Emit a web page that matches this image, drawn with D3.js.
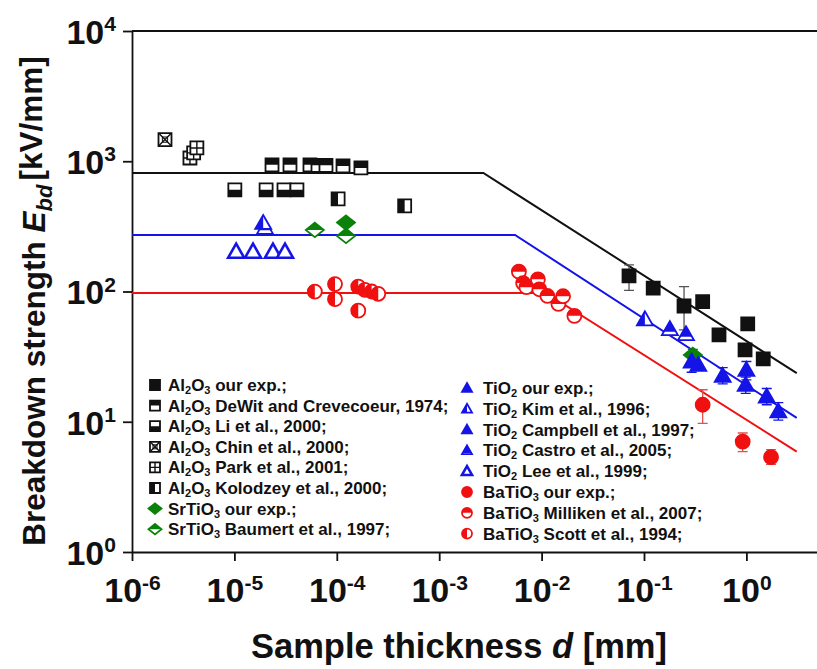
<!DOCTYPE html>
<html>
<head>
<meta charset="utf-8">
<script src="https://cdn.jsdelivr.net/npm/d3@7"></script>
<style>
  body { margin: 0; background: #fff; }
  text { font-family: "Liberation Sans", Arial, sans-serif; font-weight: bold; fill: #111; }
</style>
</head>
<body>
<svg id="chart" width="817" height="669"></svg>
<script>
// ---- data: thickness d [mm], breakdown strength E [kV/mm] ----
var al2o3Ours     = [[0.0714, 132], [0.123, 106], [0.246, 77.4], [0.374, 83.5], [0.54, 46.5], [1.03, 56.4], [0.97, 35.6], [1.46, 30.4]];
var al2o3OursErr  = [[0.0714, 102, 160], [0.246, 50.7, 109]];
var al2o3DeWit    = [[2.33e-5, 938], [3.49e-5, 938], [5.47e-5, 938], [6.55e-5, 930], [7.84e-5, 930], [1.15e-4, 920], [1.72e-4, 889]];
var al2o3Li       = [[1.01e-5, 603], [2.04e-5, 603], [3.05e-5, 603], [4.08e-5, 603]];
var al2o3Chin     = [[2.1e-6, 1466]];
var al2o3Park     = [[3.68e-6, 1059], [4.0e-6, 1160], [4.3e-6, 1265]];
var al2o3Kolodzey = [[1.03e-4, 514], [4.6e-4, 454]];
var srtio3Ours    = [[1.23e-4, 338], [0.30, 32.6]];
var srtio3OursErr = [[0.30, 28, 36]];
var srtio3Baumert = [[6.1e-5, 297], [1.23e-4, 267]];
var tio2Ours      = [[0.292, 29.0], [0.587, 22.5], [1.0, 25.0], [0.985, 19.2], [1.58, 15.6], [2.05, 12.0]];
var tio2OursErr   = [[0.292, 24, 34], [0.587, 19.5, 26], [1.0, 21, 29], [0.985, 16.5, 22], [1.58, 13.5, 18], [2.05, 10.3, 14]];
var tio2Kim       = [[1.91e-5, 336], [0.102, 61.2]];
var tio2Campbell  = [[0.339, 27.3]];
var tio2Castro    = [[1.99e-5, 308], [0.179, 51.4], [0.257, 47]];
var tio2Lee       = [[1.04e-5, 202], [1.52e-5, 202], [2.38e-5, 202], [3.12e-5, 202]];
var batio3Ours    = [[0.374, 13.5], [0.92, 7.04], [1.74, 5.35]];
var batio3OursErr = [[0.374, 9.7, 17.6], [0.92, 5.9, 8.2], [1.74, 4.7, 6.1]];
var batio3Milliken = [[6.0e-3, 142], [6.6e-3, 116], [7.1e-3, 108], [9.2e-3, 124], [9.5e-3, 104], [1.14e-2, 92.4], [1.46e-2, 80.3], [1.62e-2, 92], [2.09e-2, 65]];
var batio3Scott   = [[6.1e-5, 99.8], [9.6e-5, 114], [9.6e-5, 87.3], [1.62e-4, 71.3], [1.62e-4, 109], [1.88e-4, 103], [2.19e-4, 100], [2.54e-4, 96]];

// model lines (plateau then d^-1/2)
var fitAl2o3  = [[1e-6, 813], [2.7e-3, 813], [3.1, 23.6]];
var fitTio2   = [[1e-6, 272], [5.5e-3, 272], [3.1, 10.7]];
var fitBatio3 = [[1e-6, 97.5], [1.1e-2, 97.5], [3.1, 5.9]];

var xMajor = [1e-6, 1e-5, 1e-4, 1e-3, 1e-2, 1e-1, 1];
var yMajor = [1, 10, 100, 1000, 10000];

var legendLeft = ["Al2O3 our exp.;", "Al2O3 DeWit and Crevecoeur, 1974;", "Al2O3 Li et al., 2000;", "Al2O3 Chin et al., 2000;",
                  "Al2O3 Park et al., 2001;", "Al2O3 Kolodzey et al., 2000;", "SrTiO3 our exp.;", "SrTiO3 Baumert et al., 1997;"];
var legendRight = ["TiO2 our exp.;", "TiO2 Kim et al., 1996;", "TiO2 Campbell et al., 1997;", "TiO2 Castro et al., 2005;",
                   "TiO2 Lee et al., 1999;", "BaTiO3 our exp.;", "BaTiO3 Milliken et al., 2007;", "BaTiO3 Scott et al., 1994;"];

// ---- styles ----
var BLACK = "#111", BLUE = "#1414e6", RED = "#f01010", GREEN = "#0a820a";
var st = {
  al2o3Ours:     {shape: "square", fill: "full", color: BLACK},
  al2o3DeWit:    {shape: "square", fill: "top", color: BLACK},
  al2o3Li:       {shape: "square", fill: "bottom", color: BLACK},
  al2o3Chin:     {shape: "square", fill: "x", color: BLACK},
  al2o3Park:     {shape: "square", fill: "grid", color: BLACK},
  al2o3Kolodzey: {shape: "square", fill: "left", color: BLACK},
  srtio3Ours:    {shape: "diamond", fill: "full", color: GREEN},
  srtio3Baumert: {shape: "diamond", fill: "top", color: GREEN},
  tio2Ours:      {shape: "triangle", fill: "full", color: BLUE},
  tio2Kim:       {shape: "triangle", fill: "left", color: BLUE},
  tio2Campbell:  {shape: "triangle", fill: "full", color: BLUE},
  tio2Castro:    {shape: "triangle", fill: "topstrip", color: BLUE},
  tio2Lee:       {shape: "triangle", fill: "open", color: BLUE},
  batio3Ours:    {shape: "circle", fill: "full", color: RED},
  batio3Milliken:{shape: "circle", fill: "top", color: RED},
  batio3Scott:   {shape: "circle", fill: "left", color: RED}
};
var sizes = {square: 6.5, circle: 7, triangle: 8, diamond: 9};

var svg = d3.select("#chart");
var x = d3.scaleLog().domain([1e-6, 5]).range([132, 132 + 102.4 * Math.log10(5e6)]);
var y = d3.scaleLog().domain([1, 1e4]).range([552, 31]);

// clip paths for half-filled markers
var defs = svg.append("defs");
[["top", -50, -50, 100, 50], ["bottom", -50, 0, 100, 50], ["left", -50, -50, 50, 100], ["topstrip", -50, -50, 100, 52.5]].forEach(function (c) {
  defs.append("clipPath").attr("id", "clip-" + c[0]).append("rect")
    .attr("x", c[1]).attr("y", c[2]).attr("width", c[3]).attr("height", c[4]);
});

function shapePath(kind, s) {
  if (kind == "square") return "M" + (-s) + "," + (-s) + "H" + s + "V" + s + "H" + (-s) + "Z";
  if (kind == "circle") return "M" + (-s) + ",0A" + s + "," + s + " 0 1 0 " + s + ",0A" + s + "," + s + " 0 1 0 " + (-s) + ",0Z";
  if (kind == "triangle") return "M0," + (-s * 1.0) + "L" + (s * 1.0) + "," + (s * 0.75) + "L" + (-s * 1.0) + "," + (s * 0.75) + "Z";
  return "M0," + (-s * 0.8) + "L" + s + ",0L0," + (s * 0.8) + "L" + (-s) + ",0Z";
}

function marker(parent, m, px, py, s) {
  var g = parent.append("g").attr("transform", "translate(" + px + "," + py + ")");
  var d = shapePath(m.shape, s);
  g.append("path").attr("d", d)
    .attr("fill", m.fill == "full" ? m.color : "#fff")
    .attr("stroke", m.color).attr("stroke-width", m.fill == "open" ? 2.6 : 1.8);
  if (["top", "bottom", "left", "topstrip"].indexOf(m.fill) >= 0) {
    g.append("path").attr("d", d).attr("fill", m.color).attr("clip-path", "url(#clip-" + m.fill + ")");
  }
  if (m.fill == "x") {
    g.append("path").attr("d", "M" + (-s) + "," + (-s) + "L" + s + "," + s + "M" + s + "," + (-s) + "L" + (-s) + "," + s)
      .attr("stroke", m.color).attr("stroke-width", 1.4);
    g.append("rect").attr("x", -s / 2.5).attr("y", -s / 2.5).attr("width", s / 1.25).attr("height", s / 1.25)
      .attr("fill", "none").attr("stroke", m.color).attr("stroke-width", 1);
  }
  if (m.fill == "grid") {
    g.append("path").attr("d", "M0," + (-s) + "V" + s + "M" + (-s) + ",0H" + s)
      .attr("stroke", m.color).attr("stroke-width", 1.4);
  }
}

// ---- axes ----
var xMinor = [], yMinor = [];
xMajor.forEach(function (v) { for (var k = 2; k <= 9; k++) if (v * k <= 5) xMinor.push(v * k); });
yMajor.slice(0, 4).forEach(function (v) { for (var k = 2; k <= 9; k++) yMinor.push(v * k); });

function supLabels(sel) {
  sel.selectAll(".tick text").each(function (d) {
    var t = d3.select(this);
    t.text("10");
    t.append("tspan").attr("dy", "-0.6em").attr("font-size", "0.62em").text(Math.round(Math.log10(d)));
  });
}

var gx = svg.append("g").attr("transform", "translate(0,552)");
gx.call(d3.axisBottom(x).tickValues(xMinor).tickSize(5).tickSizeOuter(0).tickFormat(""));
gx.call(d3.axisBottom(x).tickValues(xMajor).tickSize(9).tickSizeOuter(0).tickPadding(10).tickFormat(function () { return "10"; }));
gx.selectAll("text").attr("font-size", 34).attr("dy", "0.92em");
supLabels(gx);

var gy = svg.append("g").attr("transform", "translate(132,0)");
gy.call(d3.axisLeft(y).tickValues(yMinor).tickSize(5).tickSizeOuter(0).tickFormat(""));
gy.call(d3.axisLeft(y).tickValues(yMajor).tickSize(9).tickSizeOuter(0).tickPadding(7).tickFormat(function () { return "10"; }));
gy.selectAll("text").attr("font-size", 34).attr("dy", "0.36em");
supLabels(gy);

svg.selectAll(".domain, .tick line").attr("stroke", BLACK).attr("stroke-width", 1.8);
svg.append("line").attr("x1", 132).attr("x2", 817).attr("y1", 31).attr("y2", 31)
  .attr("stroke", BLACK).attr("stroke-width", 1.8);

// axis titles
var xt = svg.append("text").attr("x", 459).attr("y", 658).attr("text-anchor", "middle").attr("font-size", 34.5);
xt.append("tspan").text("Sample thickness ");
xt.append("tspan").attr("font-style", "italic").text("d");
xt.append("tspan").text(" [mm]");

var yt = svg.append("text").attr("transform", "translate(45,301) rotate(-90)").attr("text-anchor", "middle").attr("font-size", 31.5);
yt.append("tspan").text("Breakdown strength ");
yt.append("tspan").attr("font-style", "italic").text("E");
yt.append("tspan").attr("font-style", "italic").attr("font-size", "0.7em").attr("dy", "0.3em").text("bd");
yt.append("tspan").attr("dy", "-0.3em").attr("dx", "4").text("[kV/mm]");

// ---- model lines ----
var line = d3.line().x(function (p) { return x(p[0]); }).y(function (p) { return y(p[1]); });
[[fitAl2o3, BLACK], [fitTio2, BLUE], [fitBatio3, RED]].forEach(function (f) {
  svg.append("path").datum(f[0]).attr("d", line).attr("fill", "none").attr("stroke", f[1]).attr("stroke-width", 2);
});

// ---- error bars ----
function errBars(data, color) {
  data.forEach(function (e) {
    var px = x(e[0]);
    svg.append("path")
      .attr("d", "M" + px + "," + y(e[1]) + "V" + y(e[2]) + "M" + (px - 5) + "," + y(e[1]) + "H" + (px + 5) + "M" + (px - 5) + "," + y(e[2]) + "H" + (px + 5))
      .attr("stroke", color).attr("stroke-width", 1.3).attr("fill", "none");
  });
}
errBars(al2o3OursErr, "#555");
errBars(srtio3OursErr, GREEN);
errBars(tio2OursErr, BLUE);
errBars(batio3OursErr, "#e35050");

// ---- markers ----
var series = [
  [al2o3Chin, st.al2o3Chin], [al2o3Park, st.al2o3Park], [al2o3DeWit, st.al2o3DeWit], [al2o3Li, st.al2o3Li],
  [al2o3Kolodzey, st.al2o3Kolodzey], [al2o3Ours, st.al2o3Ours],
  [srtio3Baumert, st.srtio3Baumert], [srtio3Ours, st.srtio3Ours],
  [tio2Lee, st.tio2Lee], [tio2Castro, st.tio2Castro], [tio2Kim, st.tio2Kim], [tio2Campbell, st.tio2Campbell], [tio2Ours, st.tio2Ours],
  [batio3Scott, st.batio3Scott], [batio3Milliken, st.batio3Milliken], [batio3Ours, st.batio3Ours]
];
var gm = svg.append("g");
series.forEach(function (s) {
  s[0].forEach(function (p) { marker(gm, s[1], x(p[0]), y(p[1]), sizes[s[1].shape]); });
});

// ---- legends ----
function legend(labels, styles, mx, tx, y0, step) {
  labels.forEach(function (lab, i) {
    var yy = y0 + i * step;
    marker(svg, styles[i], mx, yy, styles[i].shape == "diamond" ? 6.5 : 5);
    var t = svg.append("text").attr("x", tx).attr("y", yy + 6).attr("font-size", 17);
    var sp = lab.indexOf(" ");
    var formula = lab.slice(0, sp);
    var shifted = false;
    formula.split(/(\d)/).forEach(function (part) {
      if (!part) return;
      if (/\d/.test(part)) { t.append("tspan").attr("font-size", "11").attr("dy", shifted ? null : 3).text(part); shifted = true; }
      else { t.append("tspan").attr("dy", shifted ? -3 : null).text(part); shifted = false; }
    });
    t.append("tspan").attr("dy", shifted ? -3 : null).text(lab.slice(sp));
  });
}
legend(legendLeft, [st.al2o3Ours, st.al2o3DeWit, st.al2o3Li, st.al2o3Chin, st.al2o3Park, st.al2o3Kolodzey, st.srtio3Ours, st.srtio3Baumert], 155, 168, 385, 20.6);
legend(legendRight, [st.tio2Ours, st.tio2Kim, st.tio2Campbell, st.tio2Castro, st.tio2Lee, st.batio3Ours, st.batio3Milliken, st.batio3Scott], 467, 483, 388, 20.8);
</script>
</body>
</html>
